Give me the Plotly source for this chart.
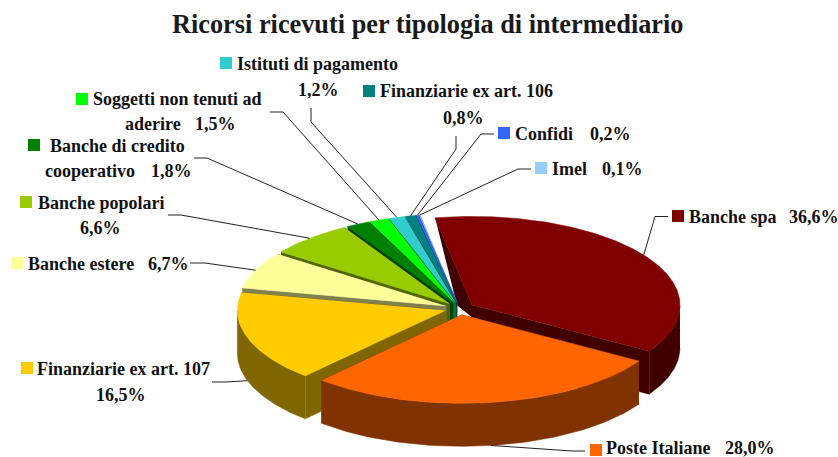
import numpy as np
import plotly.graph_objects as go

# ---- data ----
categories = ["Banche spa", "Poste Italiane", "Finanziarie ex art. 107", "Banche estere",
              "Banche popolari", "Banche di credito cooperativo", "Soggetti non tenuti ad aderire",
              "Istituti di pagamento", "Finanziarie ex art. 106", "Confidi", "Imel"]
values = [36.6, 28.0, 16.5, 6.7, 6.6, 1.8, 1.5, 1.2, 0.8, 0.2, 0.1]
title = "Ricorsi ricevuti per tipologia di intermediario"

# ---- styling ----
top_colors = ["#800000", "#FF6600", "#FFCC00", "#FFFF99", "#99CC00", "#008000",
              "#00FF00", "#33CCCC", "#008080", "#3366FF", "#99CCFF"]
wall_colors = ["#400000", "#803300", "#806600", "#808050", "#4D6600", "#004000",
               "#008000", "#1A6666", "#004040", "#1A3380", "#4D6680"]
FONT = "Liberation Serif"
FS = 18
TEXTC = "#111111"

# ---- 3D pie projection ----
CX, CY = 459.6, 308.5
RX, RY = 208, 88.5
DEPTH = 43
EXPLODE = 0.072
START = -10.2
total = sum(values)

def pt(cx, cy, deg):
    r = np.radians(deg)
    return cx + RX * np.sin(r), cy - RY * np.cos(r)

slices = []
a = START
for v in values:
    sweep = v / total * 360
    mid = a + sweep / 2
    r = np.radians(mid)
    ax = CX + EXPLODE * RX * np.sin(r)
    ay = CY - EXPLODE * RY * np.cos(r)
    slices.append(dict(a0=a, a1=a + sweep, mid=mid, ax=ax, ay=ay))
    a += sweep

fig = go.Figure()

def poly(xs, ys, color, name):
    fig.add_trace(go.Scatter(x=list(xs), y=list(ys), fill="toself", fillcolor=color, mode="lines",
                             line=dict(color=color, width=0.5), hoverinfo="text", text=name,
                             showlegend=False))

order = [0, 10, 9, 8, 7, 6, 5, 4, 3, 2, 1]
for i in order:
    s = slices[i]
    n = categories[i]
    wc, tc = wall_colors[i], top_colors[i]
    ox0, oy0 = pt(s["ax"], s["ay"], s["a0"])
    ox1, oy1 = pt(s["ax"], s["ay"], s["a1"])
    # radial walls
    if i == 0:
        # back wall of the first slice collapses towards the hub
        poly([ox0, s["ax"], s["ax"], s["ax"] - 15], [oy0, s["ay"], s["ay"] + 12, s["ay"]], wc, n)
    else:
        poly([ox0, s["ax"], s["ax"], ox0], [oy0, s["ay"], s["ay"] + DEPTH, oy0 + DEPTH], wc, n)
    poly([ox1, s["ax"], s["ax"], ox1], [oy1, s["ay"], s["ay"] + DEPTH, oy1 + DEPTH], wc, n)
    # outer wall on the front half
    lo, hi = max(s["a0"], 90), min(s["a1"], 270)
    if lo < hi:
        t = np.linspace(lo, hi, 80)
        x, y = pt(s["ax"], s["ay"], t)
        poly(np.r_[x, x[::-1]], np.r_[y, y[::-1] + DEPTH], wc, n)
    # top
    t = np.linspace(s["a0"], s["a1"], max(int(s["a1"] - s["a0"]) * 2, 3))
    x, y = pt(s["ax"], s["ay"], t)
    poly(np.r_[s["ax"], x], np.r_[s["ay"], y], tc, n)

# ---- label layout (key square, text lines, value, leader elbows) ----
label_layout = {
    0: dict(key=(678, 216), lines=[("Banche spa", 687, 217)], val=(814, 217),
            elbow=[(668, 216.5), (655, 216.5)]),
    1: dict(key=(596, 450), lines=[("Poste Italiane", 604, 448)], val=(750, 448),
            elbow=[(585, 451), (572, 451)]),
    2: dict(key=(27, 368), lines=[("Finanziarie ex art. 107", 35, 369)], val=(121, 395),
            elbow=[(212, 382), (225, 382)]),
    3: dict(key=(17, 263), lines=[("Banche estere", 26, 264)], val=(168, 264),
            elbow=[(190, 263), (205, 263)]),
    4: dict(key=(26, 202), lines=[("Banche popolari", 36, 203)], val=(100, 228),
            elbow=[(168, 215), (181, 215)]),
    5: dict(key=(34, 145), lines=[("Banche di credito", 48, 146), ("cooperativo", 43, 171)], val=(171, 171),
            elbow=[(194, 158), (207, 158)]),
    6: dict(key=(82, 99), lines=[("Soggetti non tenuti ad", 91, 99), ("aderire", 123, 124)], val=(215, 124),
            elbow=[(270, 112), (283, 112)]),
    7: dict(key=(226, 63), lines=[("Istituti di pagamento", 235, 64)], val=(318, 90),
            elbow=[(311, 108), (311, 122)]),
    8: dict(key=(369, 91), lines=[("Finanziarie ex art. 106", 378, 91)], val=(463, 118),
            elbow=[(456, 136), (456, 149)]),
    9: dict(key=(504, 133), lines=[("Confidi", 513, 134)], val=(610, 134),
            elbow=[(494, 134), (481, 134)]),
    10: dict(key=(541, 168), lines=[("Imel", 550, 169)], val=(622, 169),
             elbow=[(531, 169), (518, 169)]),
}

annotations = []
def note(text, x, y, anchor):
    annotations.append(dict(text=f"<b>{text}</b>", x=x, y=y, xref="x", yref="y", xanchor=anchor, yanchor="middle",
                            showarrow=False, font=dict(family=FONT, size=FS, color=TEXTC)))

for i, lay in label_layout.items():
    s = slices[i]
    ex, ey = pt(s["ax"], s["ay"], s["mid"])
    if 90 < s["mid"] < 270:
        ey += DEPTH
    (x0, y0), (x1, y1) = lay["elbow"]
    fig.add_trace(go.Scatter(x=[x0, x1, ex], y=[y0, y1, ey], mode="lines",
                             line=dict(color="#222222", width=1), hoverinfo="skip", showlegend=False))
    fig.add_trace(go.Scatter(x=[lay["key"][0]], y=[lay["key"][1]], mode="markers",
                             marker=dict(symbol="square", size=12, color=top_colors[i], line=dict(width=0)),
                             hoverinfo="skip", showlegend=False))
    for text, x, y in lay["lines"]:
        note(text, x, y, "left")
    note(f"{values[i]:.1f}%".replace(".", ","), lay["val"][0], lay["val"][1], "center")

annotations.append(dict(text=f"<b>{title}</b>", x=428, y=24, xref="x", yref="y", xanchor="center", yanchor="middle",
                        showarrow=False, font=dict(family=FONT, size=26.3, color="#1a1a1a")))

fig.update_layout(
    width=838, height=457, margin=dict(l=0, r=0, t=0, b=0),
    paper_bgcolor="white", plot_bgcolor="white", showlegend=False,
    xaxis=dict(range=[0, 838], visible=False, fixedrange=True),
    yaxis=dict(range=[457, 0], visible=False, fixedrange=True),
    annotations=annotations,
)
fig.write_html("out.html", post_script="document.body.style.margin='0';document.body.style.overflow='hidden';",
               config=dict(displayModeBar=False))
